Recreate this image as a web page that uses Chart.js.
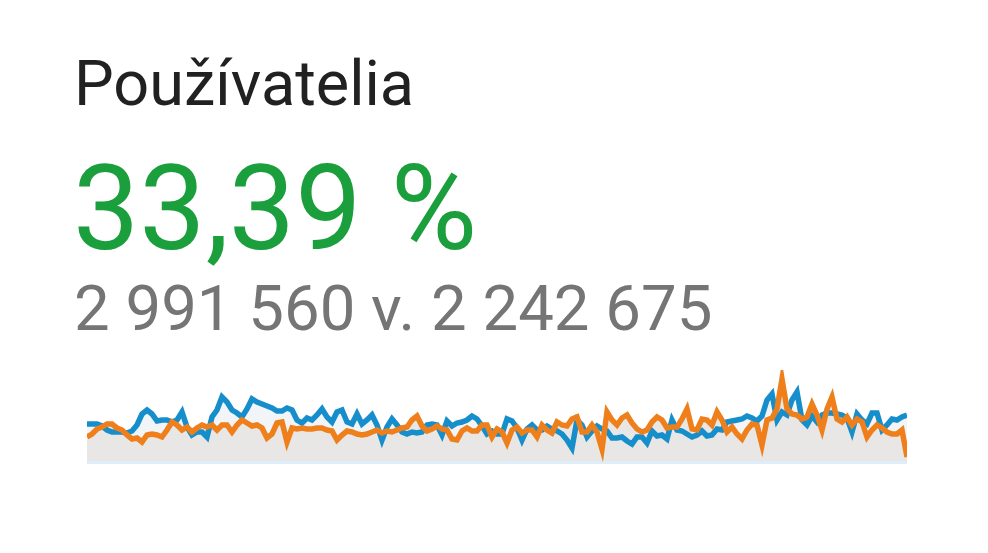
<!DOCTYPE html>
<html>
<head>
<meta charset="utf-8">
<script src="https://cdn.jsdelivr.net/npm/chart.js@4"></script>
<style>
  html, body { margin:0; padding:0; background:#ffffff; width:988px; height:553px; overflow:hidden; }
  .t { position:absolute; font-family: Roboto, "Noto Sans", sans-serif; line-height:1; white-space:nowrap; }
  #title { left:74px; top:52px; font-size:63px; color:#212121; }
  #pct { left:73px; top:150px; font-size:118px; color:#1a9f3c; }
  #cmp { left:74px; top:277px; font-size:63.5px; color:#757575; }
  #wrap { position:absolute; left:87px; top:370px; width:820px; height:94px; }
</style>
</head>
<body>
<div class="t" id="title">Používatelia</div>
<div class="t" id="pct">33,39 %</div>
<div class="t" id="cmp">2 991 560 v. 2 242 675</div>
<div id="wrap"><canvas id="c"></canvas></div>
<script>
const titleText = "Používatelia";
const changeText = "33,39 %";
const totalsText = "2 991 560 v. 2 242 675";

// Relative daily values read from the sparkline (current period = blue, previous period = orange)
const currentPeriod = [
  37,37,37,35,31,29,29,29,28,30,
  36,47,51,47,40,41,41,39,41,49,
  34,26,29,29,24,44,51,64,59,51,
  48,44,52,62,59,57,55,53,50,50,
  53,51,41,38,43,41,46,52,44,39,
  49,51,39,37,47,37,41,46,36,21,
  34,42,36,29,27,29,28,29,36,37,
  36,26,40,35,38,39,41,45,42,35,
  27,30,27,27,42,40,33,21,32,36,
  31,31,35,32,30,27,21,13,41,36,
  24,30,35,32,30,23,23,24,20,17,
  24,24,18,30,25,26,22,41,31,30,
  27,24,26,30,25,26,32,31,39,40,
  41,42,45,43,40,45,61,67,41,49,
  46,61,69,41,36,45,39,46,48,48,
  47,46,43,29,47,41,37,48,48,31,
  36,42,41,44,46
];
const previousPeriod = [
  24,27,32,34,37,37,33,31,26,22,
  23,19,26,27,26,24,31,39,36,31,
  34,29,33,36,34,36,31,36,36,29,
  36,41,38,35,36,33,23,27,38,39,
  19,33,32,33,32,32,33,33,31,30,
  21,26,30,29,27,26,27,29,31,28,
  30,29,31,33,34,41,45,35,30,32,
  35,32,31,22,21,30,33,30,30,36,
  36,24,32,29,18,31,34,28,31,31,
  24,36,31,28,39,36,35,42,44,29,
  29,36,29,12,49,41,36,43,46,38,
  32,29,31,39,44,41,33,34,34,42,
  52,32,31,42,41,36,49,41,29,34,
  27,22,31,37,36,16,41,43,52,82,
  52,47,46,42,44,57,46,31,52,64,
  42,39,44,36,42,39,24,31,36,33,
  29,27,27,31,4
];
const days = currentPeriod.map((_, i) => "Deň " + (i + 1));

document.getElementById('title').textContent = titleText;
document.getElementById('pct').textContent = changeText;
document.getElementById('cmp').textContent = totalsText;

new Chart(document.getElementById('c'), {
  type: 'line',
  data: {
    labels: days,
    datasets: [
      {
        label: 'Predchádzajúce obdobie',
        data: previousPeriod,
        borderColor: '#ee7f1a',
        backgroundColor: '#e9e7e5',
        borderWidth: 5.5,
        pointRadius: 0,
        tension: 0,
        fill: 'origin',
        borderJoinStyle: 'miter'
      },
      {
        label: 'Aktuálne obdobie',
        data: currentPeriod,
        borderColor: '#168ecb',
        backgroundColor: '#f1f5f8',
        borderWidth: 5.5,
        pointRadius: 0,
        tension: 0,
        fill: 'origin',
        borderJoinStyle: 'miter'
      }
    ]
  },
  options: {
    responsive: true,
    maintainAspectRatio: false,
    animation: false,
    layout: { padding: 0 },
    plugins: {
      legend: { display: false },
      tooltip: { enabled: false },
      filler: { drawTime: 'beforeDatasetsDraw' }
    },
    scales: {
      x: { display: false, offset: false },
      y: {
        display: true,
        min: -3, max: 91,
        afterFit: (s) => { s.width = 0; },
        afterBuildTicks: (s) => { s.ticks = [{ value: -1.5 }]; },
        ticks: { display: false },
        border: { display: false },
        grid: {
          drawTicks: false,
          lineWidth: 3,
          color: '#deedf7'
        }
      }
    }
  }
});
</script>
</body>
</html>
